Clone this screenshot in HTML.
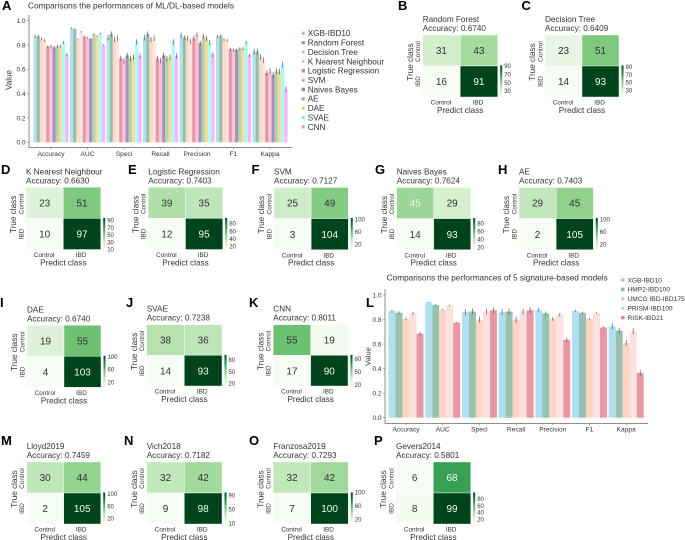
<!DOCTYPE html>
<html lang="en">
<head>
<meta charset="utf-8">
<title>Comparisons of ML/DL and signature-based models</title>
<style>
html,body{margin:0;padding:0;background:#fff;width:685px;height:540px;overflow:hidden}
svg{display:block;filter:blur(0.3px)}
text{font-family:"Liberation Sans",sans-serif;fill:#333}
</style>
</head>
<body>
<svg id="figure" xmlns="http://www.w3.org/2000/svg" width="685" height="540" viewBox="0 0 685 540">
<defs>
<linearGradient id="greens-bar" x1="0" y1="1" x2="0" y2="0">
<stop offset="0" stop-color="#f7fcf5"/><stop offset="0.125" stop-color="#e5f5e0"/><stop offset="0.25" stop-color="#c7e9c0"/><stop offset="0.375" stop-color="#a1d99b"/><stop offset="0.5" stop-color="#74c476"/><stop offset="0.625" stop-color="#41ab5d"/><stop offset="0.75" stop-color="#238b45"/><stop offset="0.875" stop-color="#006d2c"/><stop offset="1" stop-color="#00441b"/>
</linearGradient>
</defs>
</svg>
<script>
// ---------- Chart data ----------
const metricNames = ["Accuracy","AUC","Speci","Recall","Precision","F1","Kappa"];
const yTickValues = [0,0.2,0.4,0.6,0.8,1.0];

const mlModelNames = ["XGB-IBD10","Random Forest","Decision Tree","K Nearest Neighbour","Logistic Regression","SVM","Naives Bayes","AE","DAE","SVAE","CNN"];
const mlXgb = [0.87,0.94,0.86,0.86,0.88,0.87,0.745];
const mlRandomForest = [0.87,0.93,0.89,0.89,0.86,0.875,0.745];
const mlDecisionTree = [0.85,0.85,0.845,0.845,0.855,0.845,0.70];
const mlKnn = [0.84,0.91,0.855,0.855,0.83,0.84,0.675];
const mlLogistic = [0.785,0.87,0.69,0.69,0.855,0.765,0.57];
const mlSvm = [0.79,0.86,0.67,0.67,0.885,0.76,0.585];
const mlNaiveBayes = [0.78,0.85,0.715,0.715,0.815,0.76,0.555];
const mlAe = [0.79,0.89,0.69,0.69,0.87,0.77,0.585];
const mlDae = [0.79,0.875,0.70,0.70,0.855,0.77,0.58];
const mlSvae = [0.82,0.895,0.825,0.825,0.82,0.82,0.64];
const mlCnn = [0.72,0.80,0.71,0.71,0.72,0.715,0.435];
const mlErrors = [0.012,0.006,0.022,0.022,0.02,0.012,0.024];

const sigModelNames = ["XGB-IBD10","HMP2-IBD100","UMCG IBD-IBD175","PRISM-IBD100","RISK-IBD21"];
const sigXgb = [0.87,0.94,0.86,0.86,0.88,0.87,0.745];
const sigHmp2 = [0.855,0.92,0.865,0.865,0.85,0.855,0.71];
const sigUmcg = [0.805,0.88,0.80,0.80,0.805,0.805,0.61];
const sigPrism = [0.85,0.915,0.865,0.865,0.84,0.855,0.705];
const sigRisk = [0.685,0.775,0.875,0.875,0.635,0.735,0.365];
const sigErrors = [0.012,0.006,0.024,0.024,0.016,0.008,0.024];

const panelNames = ["Random Forest","Decision Tree","K Nearest Neighbour","Logistic Regression","SVM","Naives Bayes","AE","DAE","SVAE","CNN","Lloyd2019","Vich2018","Franzosa2019","Gevers2014"];
const panelAccuracy = ["0.6740","0.6409","0.6630","0.7403","0.7127","0.7624","0.7403","0.6740","0.7238","0.8011","0.7459","0.7182","0.7293","0.5801"];
const panelCounts = [[31,43,16,91],[23,51,14,93],[23,51,10,97],[39,35,12,95],[25,49,3,104],[45,29,14,93],[29,45,2,105],[19,55,4,103],[38,36,14,93],[55,19,17,90],[30,44,2,105],[32,42,9,98],[32,42,7,100],[6,68,8,99]];
const panelColorTicks = [[90,70,50,30],[90,70,50,30],[90,70,50,30,10],[80,60,40,20],[100,60,20],[80,60,40,20],[100,60,20],[100,60,20],[80,50,20],[80,50,20],[100,60,20],[90,50,10],[100,60,20],[80,60,40,20]];

// ---------- Layout and style ----------
const panelLetters = ["B","C","D","E","F","G","H","I","J","K","M","N","O","P"];
const panelBoxes = [[422.7,35,497.7,97],[545,35,619,97],[26,187.3,100.7,249.5],[148.3,187.3,222.7,249.5],[274,187.5,348.3,249.7],[396.7,187.5,470.7,249.7],[519,187.5,593.3,249.7],[27,325.3,101,387.3],[146.7,324.7,222,386],[273.3,324.7,348,386],[26.7,462,100.7,524],[146.7,462,222,524],[273.3,462,348.3,524],[396,462,470.7,524]];
const letterSpots = [["A",2,10],["B",398,10],["C",521.5,10],["D",1,174],["E",128,174],["F",251.5,174],["G",375,174],["H",498,174],["I",0,307],["J",126,307],["K",249,307],["L",366,307],["M",1,445],["N",124,445],["O",249,445],["P",374,445]];
const mlColors = ["#b3dff2","#93bfa8","#fdd9c8","#fde3e1","#e995a3","#f9c6d9","#a392bb","#b7d2a8","#f8dc9c","#a8fbfb","#fbb4fb"];
const sigColors = ["#b3dff2","#97c2ad","#fdd5c2","#fce1e1","#e997a5"];
const greenStops = [[247,252,245],[229,245,224],[199,233,192],[161,217,155],[116,196,118],[65,171,93],[35,139,69],[0,109,44],[0,68,27]];

const svg = document.getElementById("figure");
const NS = "http://www.w3.org/2000/svg";

function make(tag, attrs, parent) {
  const el = document.createElementNS(NS, tag);
  for (const k in attrs) el.setAttribute(k, attrs[k]);
  (parent || svg).appendChild(el);
  return el;
}
function label(str, x, y, size, anchor, parent, rotate) {
  const attrs = {x: x, y: y, "font-size": size, "text-anchor": anchor || "start"};
  if (rotate) attrs.transform = "rotate(-90 " + x + " " + y + ")";
  const el = make("text", attrs, parent);
  el.textContent = str;
  return el;
}
function slug(s) {
  return s.toLowerCase().replace(/[^a-z0-9]+/g, "-").replace(/^-|-$/g, "");
}
function greenColor(t) {
  const p = Math.max(0, Math.min(1, t)) * (greenStops.length - 1);
  const i = Math.min(Math.floor(p), greenStops.length - 2);
  const f = p - i;
  const c = greenStops[i].map(function (v, j) { return Math.round(v + (greenStops[i + 1][j] - v) * f); });
  return "rgb(" + c.join(",") + ")";
}

// ---------- Panel letters ----------
letterSpots.forEach(function (s) {
  const t = label(s[0], s[1], s[2], 13, "start");
  t.setAttribute("font-weight", "bold");
  t.style.fill = "#000";
  
  
});

// ---------- Grouped bar charts ----------
function barChart(cfg) {
  const g = make("g", {});
  
  

  const yScale = function (v) { return cfg.y0 - v * cfg.yUnit; };
  const xScale = function (m, s) { return cfg.x0 + m * cfg.xStep + (s - (cfg.series.length - 1) / 2) * cfg.barW; };

  cfg.series.forEach(function (values, s) {
    values.forEach(function (v, m) {
      const bar = make("rect", {x: xScale(m, s) - cfg.barW / 2, y: yScale(v), width: cfg.barW, height: v * cfg.yUnit, fill: cfg.colors[s]}, g);
      
      
    });
  });
  cfg.series.forEach(function (values, s) {
    values.forEach(function (v, m) {
      const e = cfg.errors[m];
      const err = make("line", {x1: xScale(m, s), x2: xScale(m, s), y1: yScale(v - e), y2: yScale(v + e), stroke: "#555", "stroke-width": 0.7}, g);
      
      
    });
  });

  const yAxis = make("line", {x1: cfg.axisX, x2: cfg.axisX, y1: cfg.axisTop, y2: cfg.axisY + 0.5, stroke: "#8c8c8c", "stroke-width": 1}, g);
  
  
  const xAxis = make("line", {x1: cfg.axisX, x2: cfg.axisRight, y1: cfg.axisY, y2: cfg.axisY, stroke: "#8c8c8c", "stroke-width": 1}, g);
  
  

  yTickValues.forEach(function (v) {
    const tick = make("line", {x1: cfg.axisX - 2, x2: cfg.axisX, y1: yScale(v), y2: yScale(v), stroke: "#777", "stroke-width": 0.6}, g);
    
    
    const t = label(v.toFixed(1), cfg.axisX - 3.5, yScale(v) + 2.3, 6.5, "end", g);
    
    
  });
  metricNames.forEach(function (name, m) {
    const cx = cfg.x0 + m * cfg.xStep;
    const tick = make("line", {x1: cx, x2: cx, y1: cfg.axisY, y2: cfg.axisY + 2, stroke: "#777", "stroke-width": 0.6}, g);
    
    
    const t = label(name, cx, cfg.xLabelY, 6.6, "middle", g);
    
    
  });

  const yTitle = label("Value", cfg.valueX, cfg.valueY, cfg.valueSize, "middle", g, true);
  
  

  const title = label(cfg.title, cfg.titleX, cfg.titleY, 8.2, "start", g);
  title.setAttribute("textLength", cfg.titleW);
  title.setAttribute("lengthAdjust", "spacingAndGlyphs");
  
  

  cfg.modelNames.forEach(function (name, s) {
    const ly = cfg.legendY + s * cfg.legendStep;
    const key = make("rect", {x: cfg.legendX, y: ly - 1.8, width: 3.6, height: 3.6, fill: cfg.colors[s]}, g);
    
    
    const dot = make("circle", {cx: cfg.legendX + 1.8, cy: ly, r: 0.6, fill: "#666"}, g);
    
    
    const t = label(name, cfg.legendTextX, ly + cfg.legendSize * 0.35, cfg.legendSize, "start", g);
    
    
  });
}

barChart({
  name: "ml-models-bar-chart",
  title: "Comparisons the performances of ML/DL-based models",
  titleX: 28, titleY: 8.5, titleW: 206,
  series: [mlXgb, mlRandomForest, mlDecisionTree, mlKnn, mlLogistic, mlSvm, mlNaiveBayes, mlAe, mlDae, mlSvae, mlCnn],
  errors: mlErrors, modelNames: mlModelNames, colors: mlColors,
  x0: 51, xStep: 36.5, barW: 3.18, y0: 142.3, yUnit: 121.6,
  axisX: 29, axisTop: 15, axisY: 147.5, axisRight: 292.5, xLabelY: 156,
  valueX: 11.5, valueY: 80, valueSize: 8,
  legendX: 301.5, legendTextX: 307.7, legendY: 33.3, legendStep: 9.36, legendSize: 8.2
});

barChart({
  name: "signature-models-bar-chart",
  title: "Comparisons the performances of 5 signature-based models",
  titleX: 386.7, titleY: 280.5, titleW: 221,
  series: [sigXgb, sigHmp2, sigUmcg, sigPrism, sigRisk],
  errors: sigErrors, modelNames: sigModelNames, colors: sigColors,
  x0: 406, xStep: 36.7, barW: 7, y0: 417.7, yUnit: 122.7,
  axisX: 385, axisTop: 289, axisY: 423.5, axisRight: 648, xLabelY: 431.7,
  valueX: 370.5, valueY: 356.5, valueSize: 7.5,
  legendX: 621, legendTextX: 627.5, legendY: 280, legendStep: 9.4, legendSize: 6.6
});

// ---------- Confusion matrix panels ----------
panelNames.forEach(function (name, p) {
  const box = panelBoxes[p];
  const left = box[0], top = box[1], right = box[2], bottom = box[3];
  const counts = panelCounts[p];
  const minV = Math.min.apply(null, counts);
  const maxV = Math.max.apply(null, counts);
  const cw = (right - left) / 2, ch = (bottom - top) / 2;

  const g = make("g", {});
  
  

  const t1 = label(name, left, top - 13, 8.2, "start", g);
  
  
  const t2 = label("Accuracy: " + panelAccuracy[p], left, top - 4, 8.2, "start", g);
  
  

  counts.forEach(function (v, i) {
    const col = i % 2, row = Math.floor(i / 2);
    const t = (v - minV) / (maxV - minV);
    const cell = make("rect", {x: left + col * cw, y: top + row * ch, width: cw, height: ch, fill: greenColor(t), stroke: "#fff", "stroke-width": 0.4}, g);
    
    
    const num = label(String(v), left + (col + 0.5) * cw, top + (row + 0.5) * ch + 3.6, 10, "middle", g);
    if (t > 0.65 || (name === "Naives Bayes" && i === 0)) num.style.fill = "#f4f9f2";
    
    
  });

  const cbX = right + 2.5;
  const cbTop = top + ch - 0.5;
  const cbH = bottom - cbTop;
  const cb = make("rect", {x: cbX, y: cbTop, width: 2, height: cbH, fill: "url(#greens-bar)"}, g);
  
  
  panelColorTicks[p].forEach(function (tv) {
    const ty = bottom - (tv - minV) / (maxV - minV) * cbH;
    const tl = label(String(tv), right + 6.5, ty + 2.1, 6, "start", g);
    
    
  });

  const xt1 = label("Control", left + cw * 0.5 - 0.5, bottom + 7.7, 6.4, "middle", g);
  
  
  const xt2 = label("IBD", left + cw * 1.5 - 1, bottom + 7.7, 6.4, "middle", g);
  
  
  const xTitle = label("Predict class", (left + right) / 2, bottom + 16, 8.2, "middle", g);
  
  

  const yTitle = label("True class", left - 9.8, (top + bottom) / 2 - 4, 8.2, "middle", g, true);
  
  
  const yt1 = label("Control", left - 2.7, top + ch * 0.5 + 1, 6.4, "middle", g, true);
  
  
  const yt2 = label("IBD", left - 2.7, top + ch * 1.5, 6.4, "middle", g, true);
  
  
});
</script>
</body>
</html>
